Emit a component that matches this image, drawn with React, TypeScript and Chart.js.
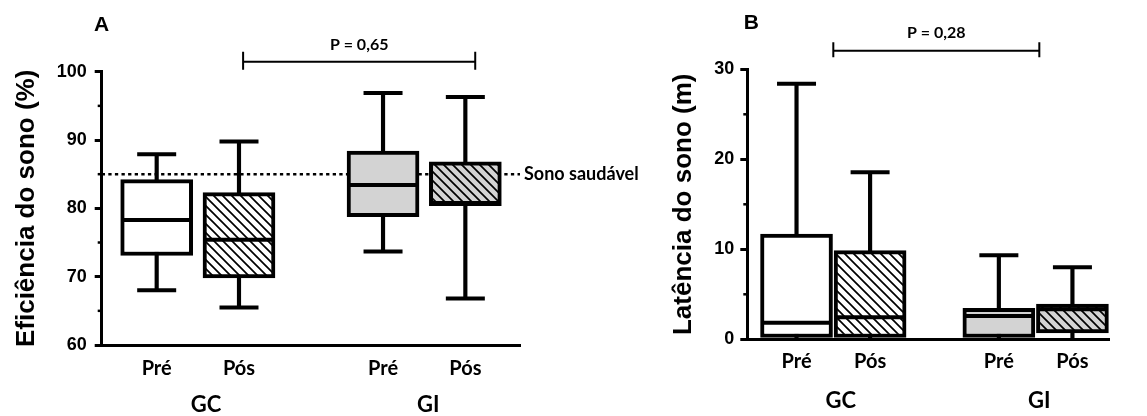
import React, { useEffect, useRef } from "react";
import { Chart, registerables } from "chart.js";

Chart.register(...registerables);

// ---------- shared categories ----------
const xPositions = [0, 1, 2.75, 3.75];
const xTickLabels = ["Pré", "Pós", "Pré", "Pós"];
const groupLabels = ["GC", "GI"];
const groupPositions = [0.6, 3.3];

// ---------- Panel A : Eficiência do sono (%) ----------
const effMin = [68.0, 65.5, 73.7, 66.8];
const effQ1 = [73.1, 69.8, 78.8, 80.4];
const effMedian = [78.3, 75.4, 83.4, 80.8];
const effQ3 = [84.2, 82.3, 88.4, 86.8];
const effMax = [87.9, 89.8, 96.9, 96.3];
const effYTicks = [60, 70, 80, 90, 100];
const effMinorTicks = [65, 75, 85, 95];
const healthySleep = 85;
const healthyLabel = "Sono saudável";
const effPValue = "P = 0,65";
const effBracket = [1.05, 3.87];

// ---------- Panel B : Latência do sono (m) ----------
const latMin = [0, 0, 0, 0];
const latQ1 = [0.2, 0.2, 0.2, 0.7];
const latMedian = [1.85, 2.45, 2.6, 3.35];
const latQ3 = [11.7, 9.85, 3.45, 3.9];
const latMax = [28.4, 18.55, 9.35, 8.0];
const latYTicks = [0, 10, 20, 30];
const latMinorTicks = [5, 15, 25];
const latPValue = "P = 0,28";
const latBracket = [0.5, 3.3];

const GRAY = "#d3d3d3";

function makeHatch(bg: string): CanvasPattern | string {
  const s = 9;
  const c = document.createElement("canvas");
  c.width = s;
  c.height = s;
  const g = c.getContext("2d");
  if (!g) return bg;
  g.fillStyle = bg;
  g.fillRect(0, 0, s, s);
  g.strokeStyle = "#000";
  g.lineWidth = 1.7;
  g.beginPath();
  g.moveTo(0, 0);
  g.lineTo(s, s);
  g.moveTo(-2, s - 2);
  g.lineTo(2, s + 2);
  g.moveTo(s - 2, -2);
  g.lineTo(s + 2, 2);
  g.stroke();
  return g.createPattern(c, "repeat") || bg;
}

type Panel = {
  min: number[];
  q1: number[];
  median: number[];
  q3: number[];
  max: number[];
  yTicks: number[];
  minorTicks: number[];
  yMin: number;
  yMax: number;
  xMin: number;
  xMax: number;
  title: string;
  letter: string;
  pValue: string;
  bracket: number[];
  refLine?: number;
  refLabel?: string;
  padLeft: number;
  yWidth: number;
  padTop: number;
  padRight: number;
  xHeight: number;
  yTickPad: number;
  xTickPad: number;
  letterDx: number;
  letterDy: number;
  bracketDy: number;
  bracketTickTop: number;
  bracketTickBottom: number;
  pDy: number;
  groupDy: number;
};

const LABEL_FONT = "Lato";
const AXIS_FONT = "'Liberation Sans', Arial, sans-serif";

function annotPlugin(p: Panel) {
  return {
    id: "annot" + p.letter,
    afterDraw(chart: any) {
      const { ctx, chartArea } = chart;
      const x = chart.scales.x;
      const y = chart.scales.y;
      ctx.save();
      // minor ticks on the y axis
      ctx.strokeStyle = "#000";
      ctx.lineWidth = 2.5;
      for (const v of p.minorTicks) {
        const py = y.getPixelForValue(v);
        ctx.beginPath();
        ctx.moveTo(chartArea.left - 4, py);
        ctx.lineTo(chartArea.left, py);
        ctx.stroke();
      }
      // panel letter
      ctx.fillStyle = "#000";
      ctx.textAlign = "center";
      ctx.textBaseline = "middle";
      ctx.font = `bold 21px ${AXIS_FONT}`;
      ctx.fillText(p.letter, chartArea.left + p.letterDx, chartArea.top - p.letterDy);
      // significance bracket
      const bx1 = x.getPixelForValue(p.bracket[0]);
      const bx2 = x.getPixelForValue(p.bracket[1]);
      const by = chartArea.top - p.bracketDy;
      ctx.lineWidth = 2;
      ctx.beginPath();
      ctx.moveTo(bx1, by);
      ctx.lineTo(bx2, by);
      ctx.moveTo(bx1, chartArea.top - p.bracketTickTop);
      ctx.lineTo(bx1, chartArea.top - p.bracketTickBottom);
      ctx.moveTo(bx2, chartArea.top - p.bracketTickTop);
      ctx.lineTo(bx2, chartArea.top - p.bracketTickBottom);
      ctx.stroke();
      ctx.font = `bold 16px ${LABEL_FONT}`;
      ctx.fillText(p.pValue, (bx1 + bx2) / 2, chartArea.top - p.pDy);
      // group labels
      ctx.font = `bold 22px ${LABEL_FONT}`;
      groupLabels.forEach((g, i) => {
        ctx.fillText(g, x.getPixelForValue(groupPositions[i]), chartArea.bottom + p.groupDy);
      });
      // reference line label
      if (p.refLine !== undefined && p.refLabel) {
        ctx.textAlign = "left";
        ctx.font = `bold 18px ${LABEL_FONT}`;
        ctx.fillText(p.refLabel, chartArea.right + 4, y.getPixelForValue(p.refLine));
      }
      ctx.restore();
    },
  };
}

function buildChart(canvas: HTMLCanvasElement, p: Panel) {
  const fills = ["#ffffff", makeHatch("#ffffff"), GRAY, makeHatch(GRAY)];
  const idx = xPositions.map((_, i) => i);
  const datasets: any[] = [];
  if (p.refLine !== undefined) {
    datasets.push({
      type: "line",
      label: "ref",
      data: [
        { x: p.xMin, y: p.refLine },
        { x: p.xMax, y: p.refLine },
      ],
      borderColor: "#000",
      borderWidth: 2.5,
      borderDash: [3.3, 3.3],
      pointRadius: 0,
      order: 5,
    });
  }
  datasets.push({
    type: "bar",
    label: "whiskers",
    data: idx.map((i) => ({ x: xPositions[i], y: [p.min[i], p.max[i]] })),
    backgroundColor: "#000",
    borderWidth: 0,
    barThickness: 3.5,
    grouped: false,
    order: 3,
  });
  datasets.push({
    type: "bar",
    label: "boxes",
    data: idx.map((i) => ({ x: xPositions[i], y: [p.q1[i], p.q3[i]] })),
    backgroundColor: fills,
    borderColor: "#000",
    borderWidth: 4,
    borderSkipped: false,
    barThickness: 72,
    grouped: false,
    order: 2,
  });
  datasets.push({
    type: "line",
    label: "medians",
    data: idx.map((i) => ({ x: xPositions[i], y: p.median[i] })),
    showLine: false,
    pointStyle: "line",
    pointRadius: 34,
    pointBorderWidth: 4,
    pointBorderColor: "#000",
    pointBackgroundColor: "#000",
    order: 1,
  });
  const caps: any[] = [];
  idx.forEach((i) => {
    caps.push({ x: xPositions[i], y: p.max[i] });
    if (p.min[i] > p.yMin) caps.push({ x: xPositions[i], y: p.min[i] });
  });
  datasets.push({
    type: "line",
    label: "caps",
    data: caps,
    showLine: false,
    pointStyle: "line",
    pointRadius: 19.5,
    pointBorderWidth: 4,
    pointBorderColor: "#000",
    pointBackgroundColor: "#000",
    order: 1,
  });

  return new Chart(canvas, {
    type: "bar",
    data: { datasets },
    options: {
      responsive: false,
      animation: false,
      events: [],
      layout: {
        padding: { left: p.padLeft, top: p.padTop, right: p.padRight, bottom: 0 },
      },
      plugins: {
        legend: { display: false },
        tooltip: { enabled: false },
        title: { display: false },
      },
      scales: {
        x: {
          type: "linear",
          min: p.xMin,
          max: p.xMax,
          offset: false,
          grid: { display: true, drawOnChartArea: false, drawTicks: false, offset: false },
          border: { display: true, color: "#000", width: 3 },
          ticks: {
            padding: p.xTickPad,
            color: "#000",
            maxRotation: 0,
            autoSkip: false,
            font: { family: LABEL_FONT, weight: "bold", size: 20 },
            callback: (_v: any, i: number) => xTickLabels[i],
          },
          afterBuildTicks: (s: any) => {
            s.ticks = xPositions.map((v) => ({ value: v }));
          },
          afterFit: (s: any) => {
            s.height = p.xHeight;
          },
        },
        y: {
          type: "linear",
          min: p.yMin,
          max: p.yMax,
          grid: {
            drawOnChartArea: false,
            drawTicks: true,
            tickLength: 7,
            tickWidth: 3,
            tickColor: "#000",
          },
          border: { display: true, color: "#000", width: 3 },
          ticks: {
            padding: p.yTickPad,
            color: "#000",
            font: { family: AXIS_FONT, weight: "bold", size: 18 },
          },
          title: {
            display: true,
            text: p.title,
            color: "#000",
            padding: { top: 0, bottom: 0 },
            font: { family: AXIS_FONT, weight: "bold", size: 26 },
          },
          afterBuildTicks: (s: any) => {
            s.ticks = p.yTicks.map((v) => ({ value: v }));
          },
          afterFit: (s: any) => {
            s.width = p.yWidth;
          },
        },
      },
    },
    plugins: [annotPlugin(p)],
  } as any);
}

const panelA: Panel = {
  min: effMin,
  q1: effQ1,
  median: effMedian,
  q3: effQ3,
  max: effMax,
  yTicks: effYTicks,
  minorTicks: effMinorTicks,
  yMin: 60,
  yMax: 100,
  xMin: -0.668,
  xMax: 4.414,
  title: "Eficiência do sono (%)",
  letter: "A",
  pValue: effPValue,
  bracket: effBracket,
  refLine: healthySleep,
  refLabel: healthyLabel,
  padLeft: 11.4,
  yWidth: 90.3,
  padTop: 71.7,
  padRight: 140,
  xHeight: 71,
  yTickPad: 8,
  xTickPad: 12,
  letterDx: 0,
  letterDy: 46,
  bracketDy: 10,
  bracketTickTop: 20,
  bracketTickBottom: 2,
  pDy: 27,
  groupDy: 60,
};

const panelB: Panel = {
  min: latMin,
  q1: latQ1,
  median: latMedian,
  q3: latQ3,
  max: latMax,
  yTicks: latYTicks,
  minorTicks: latMinorTicks,
  yMin: 0,
  yMax: 30,
  xMin: -0.669,
  xMax: 4.247,
  title: "Latência do sono (m)",
  letter: "B",
  pValue: latPValue,
  bracket: latBracket,
  padLeft: 68.4,
  yWidth: 78.9,
  padTop: 69.3,
  padRight: 0,
  xHeight: 76.7,
  yTickPad: 6,
  xTickPad: 10,
  letterDx: 4,
  letterDy: 46,
  bracketDy: 18.6,
  bracketTickTop: 27,
  bracketTickBottom: 12,
  pDy: 36,
  groupDy: 62,
};

export default function App() {
  const refA = useRef<HTMLCanvasElement>(null);
  const refB = useRef<HTMLCanvasElement>(null);
  useEffect(() => {
    if (!refA.current || !refB.current) return;
    const a = buildChart(refA.current, panelA);
    const b = buildChart(refB.current, panelB);
    return () => {
      a.destroy();
      b.destroy();
    };
  }, []);
  return (
    <div
      style={{
        position: "absolute",
        left: 0,
        top: 0,
        width: 1147,
        height: 416,
        background: "#fff",
        overflow: "hidden",
      }}
    >
      <canvas
        ref={refA}
        width={660}
        height={416}
        style={{ position: "absolute", left: 0, top: 0, width: 660, height: 416 }}
      />
      <canvas
        ref={refB}
        width={547}
        height={416}
        style={{ position: "absolute", left: 600, top: 0, width: 547, height: 416 }}
      />
    </div>
  );
}
